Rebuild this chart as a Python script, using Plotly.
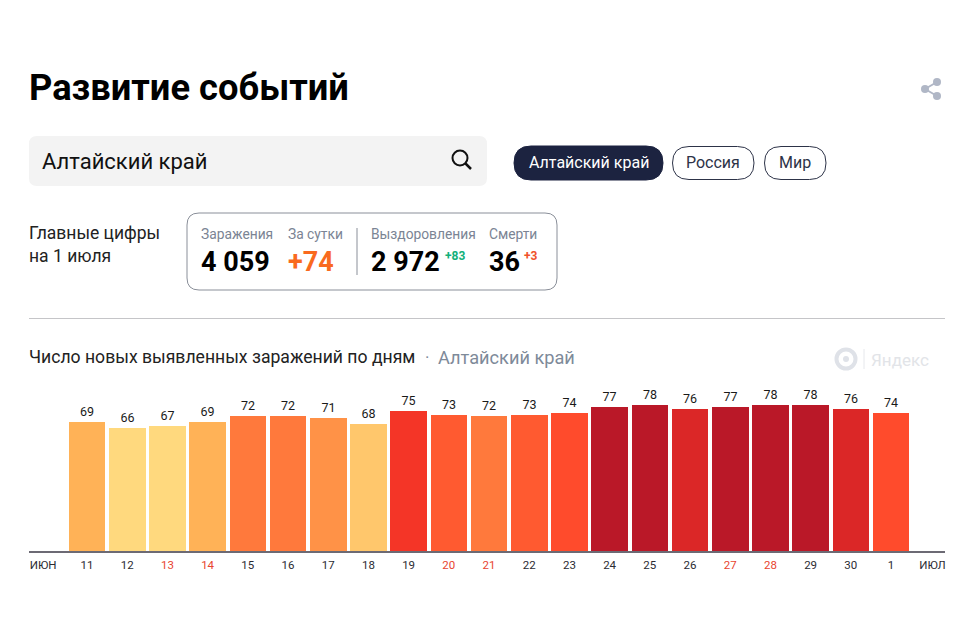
import plotly.graph_objects as go

FONT = "Roboto"
W, H = 960, 640

# Chart data
days = ["11", "12", "13", "14", "15", "16", "17", "18", "19", "20", "21",
        "22", "23", "24", "25", "26", "27", "28", "29", "30", "1"]
new_cases = [69, 66, 67, 69, 72, 72, 71, 68, 75, 73, 72,
             73, 74, 77, 78, 76, 77, 78, 78, 76, 74]
red_days = ["13", "14", "20", "21", "27", "28"]
month_left = "ИЮН"
month_right = "ИЮЛ"

# Colour of a bar depends on its value
value_colors = {66: "#ffd97e", 67: "#ffd97e", 68: "#ffc76c", 69: "#ffb257",
                71: "#ff9247", 72: "#ff793c", 73: "#ff5a30", 74: "#ff4b2c",
                75: "#f43527", 76: "#db2727", 77: "#ba1828", 78: "#ba1828"}

# Header numbers
kpi_labels = ["Заражения", "За сутки", "Выздоровления", "Смерти"]
kpi_values = ["4 059", "+74", "2 972", "36"]
kpi_deltas = ["+83", "+3"]


# Page pixels to paper coordinates, margins are 0 so paper is the whole figure
def px(x):
    return x / W


def py(y):
    return 1 - y / H


def label(x, y, text, size, color="#111111", anchor="left", family=FONT):
    fig.add_annotation(xref="paper", yref="paper", x=px(x), y=py(y), text=text,
                       showarrow=False, xanchor=anchor, yanchor="middle",
                       font=dict(family=family, size=size, color=color),
                       borderpad=0, borderwidth=0)


def round_box(x0, y0, x1, y1, r, fill="rgba(0,0,0,0)", line="rgba(0,0,0,0)", width=1):
    X0, X1, Y0, Y1 = px(x0), px(x1), py(y0), py(y1)
    rx, ry = r / W, r / H
    path = (f"M {X0 + rx} {Y0} L {X1 - rx} {Y0} Q {X1} {Y0} {X1} {Y0 - ry} "
            f"L {X1} {Y1 + ry} Q {X1} {Y1} {X1 - rx} {Y1} "
            f"L {X0 + rx} {Y1} Q {X0} {Y1} {X0} {Y1 + ry} "
            f"L {X0} {Y0 - ry} Q {X0} {Y0} {X0 + rx} {Y0} Z")
    fig.add_shape(type="path", path=path, xref="paper", yref="paper",
                  fillcolor=fill, line=dict(color=line, width=width))


def seg(x0, y0, x1, y1, color, width=1):
    fig.add_shape(type="line", xref="paper", yref="paper", x0=px(x0), y0=py(y0),
                  x1=px(x1), y1=py(y1), line=dict(color=color, width=width))


def dot(cx, cy, r, fill="rgba(0,0,0,0)", line="rgba(0,0,0,0)", width=1):
    fig.add_shape(type="circle", xref="paper", yref="paper", x0=px(cx - r), y0=py(cy - r),
                  x1=px(cx + r), y1=py(cy + r), fillcolor=fill,
                  line=dict(color=line, width=width))


positions = list(range(len(days)))
bar_colors = [value_colors[v] for v in new_cases]

fig = go.Figure(go.Bar(
    x=positions, y=new_cases, width=0.91,
    marker=dict(color=bar_colors, line=dict(width=0)),
    text=new_cases, textposition="outside", cliponaxis=False,
    textfont=dict(family=FONT, size=12.5, color="#1a1a1a"),
))

# Weekend days are red, the month names sit at both ends of the axis
tick_vals = [-1.09] + positions + [21.03]
tick_text = [month_left]
for d in days:
    if d in red_days:
        tick_text.append(f'<span style="color:#e8452f">{d}</span>')
    else:
        tick_text.append(d)
tick_text.append(month_right)

fig.update_layout(
    width=W, height=H, showlegend=False, bargap=0,
    paper_bgcolor="white", plot_bgcolor="white",
    margin=dict(l=0, r=0, t=0, b=0),
    font=dict(family=FONT),
    xaxis=dict(domain=[29 / W, 945 / W], range=[-1.443, 21.343], tickmode="array",
               tickvals=tick_vals, ticktext=tick_text,
               showgrid=False, zeroline=False, showline=True, linecolor="#6c6a74", linewidth=2,
               ticks="outside", ticklen=2, tickcolor="rgba(0,0,0,0)",
               tickangle=0, tickfont=dict(family=FONT, size=11.5, color="#2b2b33")),
    yaxis=dict(domain=[89 / H, 270 / H], range=[0, 96.8], visible=False),
)

# Header
label(29, 88, "<b>Развитие событий</b>", 36.3, "#000000")
dot(937, 82, 4, fill="#b0b7c6")
dot(925, 89, 4, fill="#b0b7c6")
dot(937, 96, 4, fill="#b0b7c6")
seg(937, 82, 925, 89, "#b0b7c6", 2)
seg(925, 89, 937, 96, "#b0b7c6", 2)

# Search box and region buttons
round_box(29, 136, 487, 186, 8, fill="#f3f3f3")
label(42, 161, "Алтайский край", 22, "#111111")
dot(460, 158, 7.5, line="#111111", width=2)
seg(465.5, 163.5, 471, 169, "#111111", 2.5)

round_box(514, 146, 663, 180, 17, fill="#1c2340", line="#1c2340")
label(588.5, 163, "Алтайский край", 16, "#ffffff", "center")
round_box(672.5, 146.5, 754, 179.5, 16.5, fill="#ffffff", line="#2d3348")
label(713, 163, "Россия", 16, "#2d3348", "center")
round_box(764.5, 146.5, 826, 179.5, 16.5, fill="#ffffff", line="#2d3348")
label(795, 163, "Мир", 16, "#2d3348", "center")

# Main numbers
label(29, 233, "Главные цифры", 17.5, "#222222")
label(29, 256, "на 1 июля", 17.5, "#222222")
round_box(187, 213, 557, 290, 12, fill="#ffffff", line="#8a8f99")
seg(357, 228, 357, 275, "#8a8f99", 1)
for xpos, text in zip([201, 288, 371, 489], kpi_labels):
    label(xpos, 234, text, 13.8, "#7b8494")
for xpos, text, color in zip([201, 288, 371, 489], kpi_values,
                             ["#000000", "#f96a1e", "#000000", "#000000"]):
    label(xpos, 262, f"<b>{text}</b>", 27, color)
label(445, 256, f"<b>{kpi_deltas[0]}</b>", 12, "#12b07a")
label(524, 256, f"<b>{kpi_deltas[1]}</b>", 12, "#f0522a")

seg(29, 318.5, 945, 318.5, "#c5c5c8", 1)

# Chart heading and logo
label(29, 357, "Число новых выявленных заражений по дням", 17.6, "#222222")
label(427, 357, "·", 17, "#7e8a99", "center")
label(438, 357, "Алтайский край", 18.2, "#7e8a99")
dot(846, 359, 9.5, line="#dfe2e8", width=4)
dot(846, 359, 3, fill="#dfe2e8")
seg(864, 349, 864, 369, "#e6e8ec", 1)
label(871, 360, "Яндекс", 17, "#e2e4e8")

fig.write_html("out.html", config={"displayModeBar": False},
               post_script="document.body.style.margin='0';")
